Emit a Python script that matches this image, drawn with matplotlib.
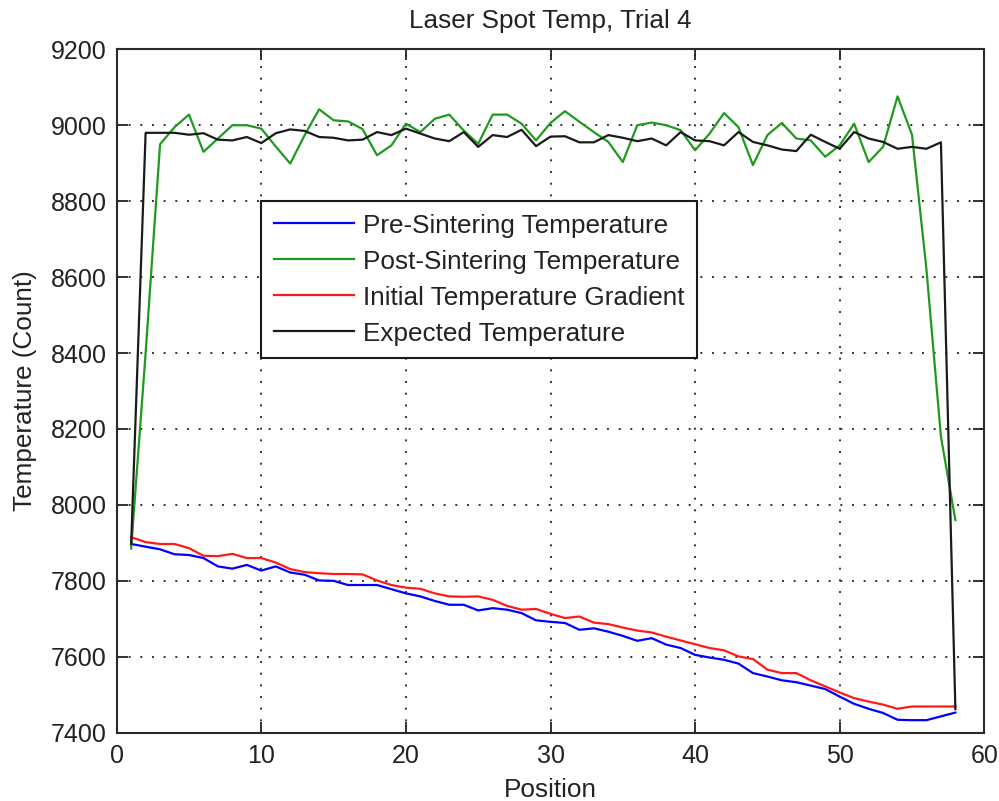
import matplotlib
matplotlib.use("Agg")
import matplotlib.pyplot as plt
import numpy as np

plt.rcParams['font.family'] = ['Liberation Sans', 'DejaVu Sans']

positions = list(range(1, 59))

pre_sintering = [7897, 7890, 7883, 7870, 7868, 7860, 7838, 7832, 7842, 7827,
                 7838, 7822, 7816, 7801, 7800, 7789, 7789, 7789, 7778, 7767,
                 7759, 7747, 7737, 7737, 7722, 7728, 7724, 7715, 7696, 7692,
                 7689, 7671, 7675, 7666, 7655, 7642, 7649, 7632, 7623, 7605,
                 7598, 7592, 7582, 7557, 7548, 7538, 7533, 7524, 7515, 7495,
                 7476, 7463, 7452, 7434, 7433, 7433, 7443, 7453]

post_sintering = [7885, 8400, 8950, 8995, 9028, 8930, 8965, 9000, 9000, 8991,
                  8944, 8899, 8974, 9042, 9013, 9010, 8990, 8921, 8947, 9004,
                  8982, 9017, 9028, 8986, 8951, 9028, 9028, 9004, 8960, 9006,
                  9037, 9009, 8982, 8956, 8903, 9000, 9007, 9000, 8987, 8934,
                  8978, 9032, 8995, 8895, 8974, 9006, 8965, 8960, 8917, 8947,
                  9004, 8903, 8943, 9076, 8975, 8620, 8180, 7960]

initial_gradient = [7915, 7902, 7897, 7897, 7886, 7866, 7865, 7871, 7860, 7860,
                    7848, 7831, 7823, 7820, 7818, 7818, 7817, 7801, 7789, 7782,
                    7779, 7767, 7759, 7758, 7759, 7750, 7734, 7724, 7726, 7713,
                    7702, 7706, 7690, 7686, 7677, 7669, 7664, 7653, 7643, 7633,
                    7623, 7617, 7601, 7594, 7566, 7557, 7557, 7538, 7522, 7506,
                    7491, 7482, 7474, 7463, 7469, 7469, 7469, 7469]

expected = [7897, 8980, 8980, 8980, 8975, 8979, 8962, 8960, 8969, 8953,
            8979, 8989, 8985, 8969, 8967, 8960, 8962, 8982, 8974, 8991,
            8978, 8965, 8958, 8982, 8943, 8974, 8969, 8988, 8945, 8970,
            8971, 8955, 8955, 8974, 8967, 8958, 8965, 8947, 8982, 8960,
            8958, 8947, 8982, 8956, 8947, 8936, 8932, 8975, 8956, 8938,
            8982, 8965, 8956, 8938, 8943, 8938, 8955, 7462]

series_labels = ["Pre-Sintering Temperature", "Post-Sintering Temperature",
                 "Initial Temperature Gradient", "Expected Temperature"]
series_colors = ["#0000ff", "#1f9a1f", "#ff1a1a", "#1a1a1a"]

xticks = [0, 10, 20, 30, 40, 50, 60]
yticks = [7400, 7600, 7800, 8000, 8200, 8400, 8600, 8800, 9000, 9200]

W, H = 999, 801
fig = plt.figure(figsize=(W / 100, H / 100), dpi=100)
ax = fig.add_axes([116.7 / W, (H - 732.7) / H, 867.6 / W, 683.4 / H])

text_color = "#222222"
fs_tick = 18
fs = 18.8

for data, lab, col in zip([pre_sintering, post_sintering, initial_gradient, expected],
                          series_labels, series_colors):
    ax.plot(positions, data, color=col, lw=1.6, label=lab)

ax.set_xlim(0, 60)
ax.set_ylim(7400, 9200)
ax.set_xticks(xticks)
ax.set_yticks(yticks)
ax.grid(True, color="#333333", linestyle=(0, (1, 5)), linewidth=1.4)

ax.tick_params(direction="in", length=8, width=1.3, top=True, right=True,
               labelsize=fs_tick, colors=text_color)
ax.tick_params(axis="x", pad=8)
ax.tick_params(axis="y", pad=7)
for sp in ax.spines.values():
    sp.set_linewidth(1.5)
    sp.set_color("#2a2a2a")

ax.set_title("Laser Spot Temp, Trial 4", fontsize=fs, color=text_color, pad=15)
ax.set_xlabel("Position", fontsize=fs, color=text_color, labelpad=7)
ax.set_ylabel("Temperature (Count)", fontsize=fs, color=text_color, labelpad=10)

leg = ax.legend(loc="upper left", bbox_to_anchor=(0.1663, 0.778), fontsize=fs,
                frameon=True, fancybox=False, edgecolor="#1a1a1a", framealpha=1,
                borderpad=0.48, labelspacing=0.46, handlelength=3.1,
                handletextpad=0.32, borderaxespad=0)
leg.get_frame().set_linewidth(1.5)
for t in leg.get_texts():
    t.set_color(text_color)

fig.savefig("out.png", dpi=100)
